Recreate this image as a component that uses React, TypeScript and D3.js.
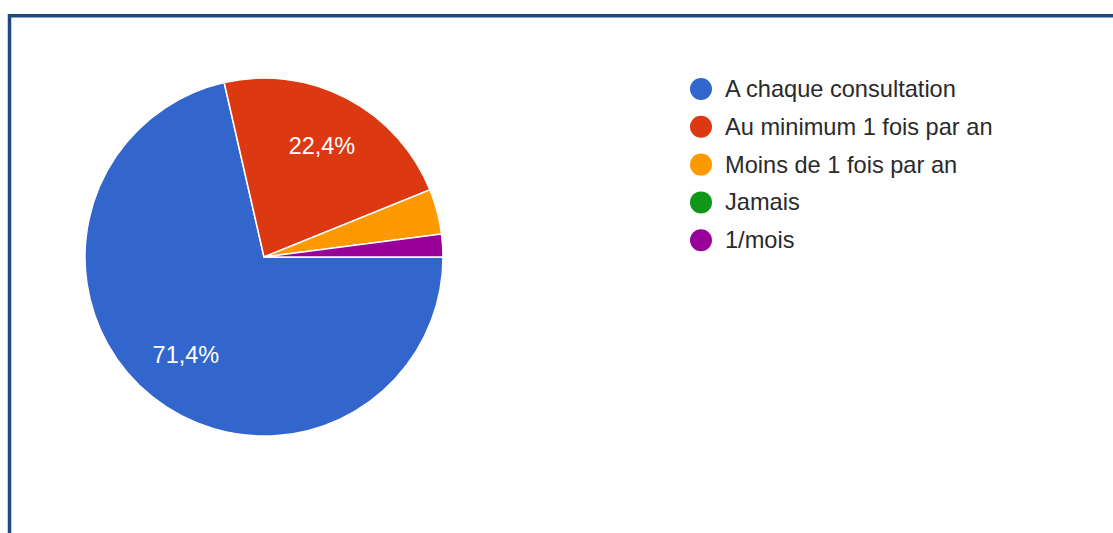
import React from "react";
import * as d3 from "d3";

const categories = ["A chaque consultation", "Au minimum 1 fois par an", "Moins de 1 fois par an", "Jamais", "1/mois"];
const counts = [35, 11, 2, 0, 1];
const colors = ["#3366cc", "#dc3912", "#ff9900", "#109618", "#990099"];

const W = 1113;
const H = 533;
const CX = 264;
const CY = 257;
const R = 179;
const FONT = "'Liberation Sans', Arial, sans-serif";

export default function App() {
  const total = d3.sum(counts);
  const pie = d3
    .pie<number>()
    .sort(null)
    .value((d) => d)
    .startAngle(Math.PI / 2)
    .endAngle(Math.PI / 2 + 2 * Math.PI);
  const arcs = pie(counts);
  const arc = d3.arc<d3.PieArcDatum<number>>().innerRadius(0).outerRadius(R);
  const labelArc = d3.arc<d3.PieArcDatum<number>>().innerRadius(R * 0.7).outerRadius(R * 0.7);
  const fmt = (v: number) => (Math.round((v / total) * 1000) / 10).toFixed(1).replace(".", ",") + "%";
  const legendY = d3.scaleLinear().domain([0, 1]).range([89, 126.8]);

  return (
    <svg width={W} height={H} style={{ position: "absolute", left: 0, top: 0, background: "#fff" }}>
      <path d={`M9.5,${H} V15.7 H${W}`} fill="none" stroke="#1f4a7f" strokeWidth={3.5} />
      <g transform={`translate(${CX},${CY})`}>
        {arcs.map((a, i) =>
          a.value > 0 ? (
            <path key={i} d={arc(a) || ""} fill={colors[i]} stroke="#ffffff" strokeWidth={1.5} />
          ) : null
        )}
        {arcs.map((a, i) => {
          if (a.value / total < 0.1) return null;
          const [x, y] = labelArc.centroid(a);
          return (
            <text
              key={"l" + i}
              x={x}
              y={y}
              textAnchor="middle"
              dominantBaseline="central"
              fill="#ffffff"
              fontFamily={FONT}
              fontSize={23.5}
            >
              {fmt(a.value)}
            </text>
          );
        })}
      </g>
      <g>
        {categories.map((c, i) => (
          <g key={c} transform={`translate(0,${legendY(i)})`}>
            <circle cx={701} cy={0} r={11} fill={colors[i]} />
            <text x={725} y={0} dominantBaseline="central" fill="#2a2a2a" fontFamily={FONT} fontSize={23.6}>
              {c}
            </text>
          </g>
        ))}
      </g>
    </svg>
  );
}
